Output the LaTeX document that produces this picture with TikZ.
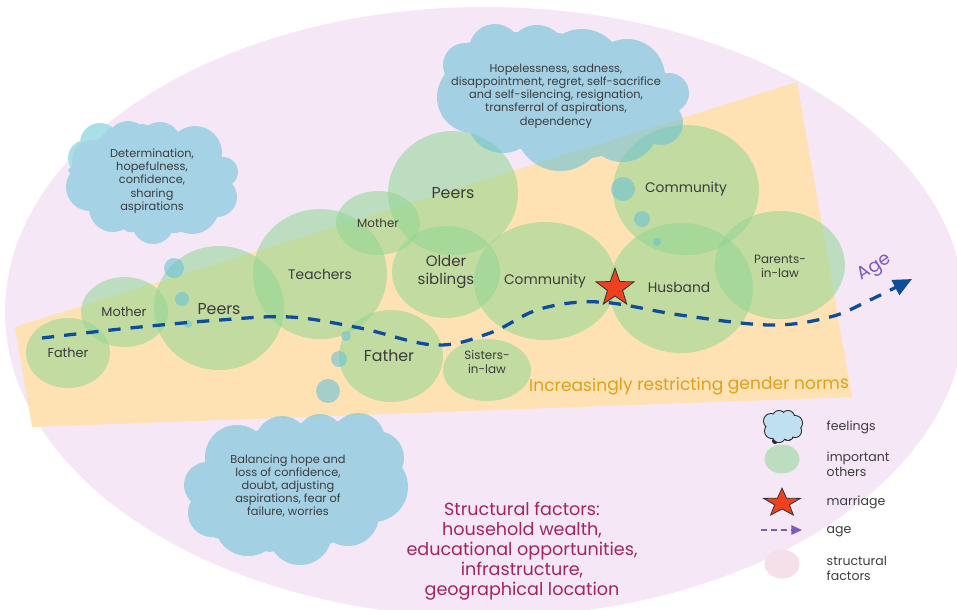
\documentclass[tikz,border=0pt]{standalone}
\usepackage{fontspec}
\setmainfont{Poppins}
\usetikzlibrary{arrows.meta}
\usetikzlibrary{shapes.geometric}
\definecolor{structpink}{HTML}{F6E7F7}
\definecolor{legendpink}{HTML}{F5DFE8}
\definecolor{normorange}{HTML}{FEE2B3}
\definecolor{othergreen}{HTML}{8FD694}
\definecolor{cloudblue}{HTML}{6CC2D6}
\definecolor{cloudsolid}{HTML}{A6D2E6}
\definecolor{cloudlight}{HTML}{A9DFE6}
\definecolor{legendcloud}{HTML}{BFE0F0}
\definecolor{agenavy}{HTML}{0F4C9A}
\definecolor{agepurple}{HTML}{7A5BBF}
\definecolor{inktext}{HTML}{3C3C3C}
\definecolor{normtext}{HTML}{DFA01C}
\definecolor{structtext}{HTML}{A3245F}
\definecolor{starred}{HTML}{F0401F}
\tikzset{
  other/.style={fill=othergreen,fill opacity=0.55},
  bubble/.style={fill=cloudblue,fill opacity=0.6},
  lab/.style={text=inktext,align=center,inner sep=0pt},
  name s/.style={lab,font=\fontsize{10.2}{12}\selectfont},
  name t/.style={lab,font=\fontsize{11}{13}\selectfont},
  name m/.style={lab,font=\fontsize{11.8}{14}\selectfont},
  name l/.style={lab,font=\fontsize{13.5}{16}\selectfont},
  name o/.style={lab,font=\fontsize{12.8}{15}\selectfont},
  cloudtext/.style={lab,font=\fontsize{9.7}{11.3}\selectfont},
  legendtext/.style={lab,align=left,anchor=west,font=\fontsize{10.7}{12.8}\selectfont},
  redstar/.style={star,star points=5,star point ratio=2.5,draw=black!80,fill=starred,line width=0.7pt,inner sep=0pt}
}
\begin{document}
\begin{tikzpicture}[x=0.03cm,y=-0.03cm]
  % Boundary
  \clip (0,0) rectangle (957,609);
  \path[use as bounding box] (0,0) rectangle (957,609);
  % Structural factors
  \fill[structpink] (485,312) ellipse [x radius=480,y radius=305];
  % Gender norms band
  \fill[normorange] (15,327) -- (797,82) -- (852,397) -- (32,427) -- cycle;
  % Important others
  \foreach \x/\y/\rx/\ry in {68/353/42/35, 124.5/312/43.5/35, 219/308/65/62, 320/274/67/65,
    378/223/42/32, 453/193/65/62, 446/272/54/46, 545/281/71/59, 391/356/52/46,
    487/370/44/31, 686/190/73/65, 681/288/72/65, 780/265/65/54}
    \fill[other] (\x,\y) ellipse [x radius=\rx,y radius=\ry];
  % Small bubbles
  \foreach \x/\y/\r in {174/268/10, 182/299/7, 188/324/4, 346/336/5, 339/359/8, 328/391/12,
    623/189/12, 642/219/8, 657/242/4}
    \fill[bubble] (\x,\y) circle [radius=\r];
  % Cloud upper left
  \fill[cloudlight] (100,143) circle [radius=20] (86,158) circle [radius=18];
  \fill[cloudsolid]
    (68,170) -- (110,128) -- (143,124) -- (178,132) -- (221,155) -- (230,185) -- (217,217)
    -- (177,233) -- (128,232) -- (92,210) -- cycle
    (90,187) circle [radius=24] (92,160) circle [radius=20] (128,142) circle [radius=21]
    (160,143) circle [radius=21] (195,153) circle [radius=27] (223,172) circle [radius=15]
    (217,197) circle [radius=20] (192,207) circle [radius=27] (153,223) circle [radius=21]
    (113,208) circle [radius=24];
  % Cloud top
  \fill[bubble]
    (467,43) -- (515,32) -- (558,33) -- (607,40) -- (667,74) -- (677,112) -- (653,145)
    -- (592,158) -- (523,150) -- (472,127) -- (444,75) -- cycle
    (495,50) circle [radius=26] (537,55) circle [radius=30] (582,70) circle [radius=41]
    (627,77) circle [radius=38] (669,93) circle [radius=20] (661,123) circle [radius=22]
    (622,125) circle [radius=37] (560,126) circle [radius=45] (503,116) circle [radius=37]
    (473,97) circle [radius=36] (465,65) circle [radius=22];
  % Cloud bottom
  \fill[bubble]
    (203,463) -- (258,430) -- (300,423) -- (338,421) -- (383,432) -- (402,465) -- (378,518)
    -- (332,543) -- (269,552) -- (213,537) -- (193,503) -- cycle
    (237,457) circle [radius=32] (282,443) circle [radius=27] (320,437) circle [radius=23]
    (358,440) circle [radius=27] (377,458) circle [radius=27] (373,487) circle [radius=35]
    (348,515) circle [radius=31] (300,533) circle [radius=32] (248,522) circle [radius=34]
    (212,513) circle [radius=24] (207,485) circle [radius=23];
  % Age
  \coordinate (agestart) at (42,338);
  \coordinate (ageend) at (912,279);
  \draw[agenavy,line width=2.8pt,dash pattern=on 10.5pt off 8.5pt,-{Triangle[length=16pt,width=14pt]}]
    plot[smooth,tension=0.6] coordinates {(agestart) (130,328) (220,320) (290,317) (360,328)
    (435,345) (490,333) (540,309) (600,302) (680,315) (770,325) (830,317) (870,300) (ageend)};
  \node[text=agepurple,inner sep=0pt,rotate=32,font=\fontsize{15.5}{18}\selectfont] (agelabel) at (875,268) {Age};
  % Marriage
  \node[redstar,minimum size=34pt] (marriage) at (615,288) {};
  % Names
  \node[name t] (father) at (68,353) {Father};
  \node[name t] (mother) at (124,312) {Mother};
  \node[name l] (peers) at (219,309) {Peers};
  \node[name m] (teachers) at (320,274) {Teachers};
  \node[name s] (mothertwo) at (378,223) {Mother};
  \node[name l] (peerstwo) at (453,193) {Peers};
  \node[name o] (siblings) at (446,272) {Older\\siblings};
  \node[name m] (community) at (545,281) {Community};
  \node[name l] (fathertwo) at (389,356) {Father};
  \node[name s] (sisters) at (487,362) {Sisters-\\in-law};
  \node[name m] (communitytwo) at (686,189) {Community};
  \node[name m] (husband) at (679,287) {Husband};
  \node[name s] (parents) at (780,266) {Parents-\\in-law};
  % Cloud texts
  \node[cloudtext] (determined) at (152,181) {Determination,\\hopefulness,\\confidence,\\sharing\\aspirations};
  \node[cloudtext] (hopeless) at (556,96) {Hopelessness, sadness,\\disappointment, regret, self-sacrifice\\and self-silencing, resignation,\\transferral of aspirations,\\dependency};
  \node[cloudtext] (balancing) at (288,486) {Balancing hope and\\loss of confidence,\\doubt, adjusting\\aspirations, fear of\\failure, worries};
  % Band and ellipse texts
  \node[inner sep=0pt,rotate=0.5,text=normtext,font=\fontsize{14.6}{17}\selectfont] (norms) at (689,386) {Increasingly restricting gender norms};
  \node[inner sep=0pt,align=center,text=structtext,font=\fontsize{15}{17}\selectfont] (structural) at (522,551) {Structural factors:\\household wealth,\\educational opportunities,\\infrastructure,\\geographical location};
  % Legend
  \foreach \x/\y/\r in {771/421/7, 779/417/6, 788/417/6, 795/423/7, 795/431/6, 788/435/5, 779/436/6, 772/431/7, 775/441/2}
    \fill[black!85] (\x,\y) circle [radius=\r+1];
  \foreach \x/\y/\r in {771/421/7, 779/417/6, 788/417/6, 795/423/7, 795/431/6, 788/435/5, 779/436/6, 772/431/7, 783/426/10}
    \fill[legendcloud] (\x,\y) circle [radius=\r];
  \fill[other] (782,459) ellipse [x radius=17.5,y radius=14.5];
  \node[redstar,yscale=0.77,transform shape,minimum size=33pt] (legendstar) at (782,503) {};
  \coordinate (legendleft) at (761,530);
  \coordinate (legendright) at (802,530);
  \draw[agepurple,line width=1.3pt,dash pattern=on 5pt off 3.5pt,-{Triangle[length=9pt,width=8pt]}] (legendleft) -- (legendright);
  \fill[legendpink] (782,564) ellipse [x radius=17.5,y radius=14.5];
  \node[legendtext] (feelings) at (826.5,427) {feelings};
  \node[legendtext] (important) at (826.5,464.5) {important\\others};
  \node[legendtext] (marriagetext) at (826.5,502) {marriage};
  \node[legendtext] (agetext) at (826.5,532) {age};
  \node[legendtext] (factors) at (826.5,568.5) {structural\\factors};
\end{tikzpicture}
\end{document}
